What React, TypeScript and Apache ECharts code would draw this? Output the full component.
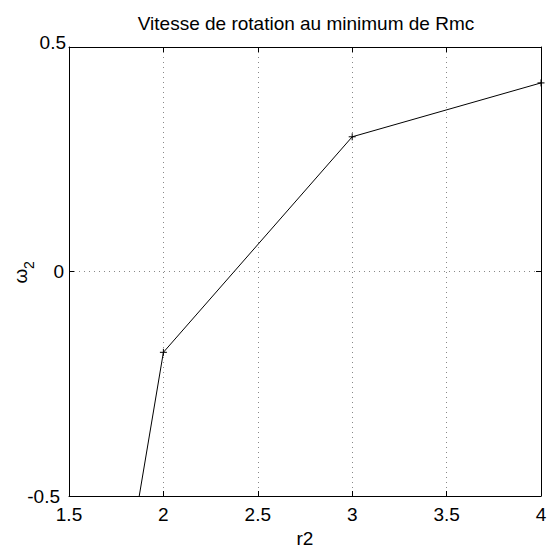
import React, { useEffect, useRef } from "react";
import * as echarts from "echarts";

const titleText = "Vitesse de rotation au minimum de Rmc";
const xName = "r2";
const yNameMain = "ω";
const yNameSub = "2";
const r2Values = [1, 2, 3, 4];
const omega2Values = [-2.68, -0.18, 0.3, 0.42];
const xRange = [1.5, 4];
const yRange = [-0.5, 0.5];
const xStep = 0.5;
const yStep = 0.5;

const FONT = "'Liberation Sans', Arial, Helvetica, sans-serif";

export default function App() {
  const ref = useRef<HTMLDivElement>(null);
  useEffect(() => {
    document.body.style.margin = "0";
    if (!ref.current) return;
    const chart = echarts.init(ref.current, null, { renderer: "svg" });
    const axisLine = { show: true, onZero: false, lineStyle: { color: "#000", width: 1 } };
    const tick = { show: true, inside: true, length: 5, lineStyle: { color: "#000", width: 1 } };
    const grid = { show: true, lineStyle: { color: "#888", width: 1, type: [1, 4] as any } };
    chart.setOption({
      animation: false,
      backgroundColor: "#fff",
      title: {
        text: titleText,
        left: 306,
        top: 14,
        padding: 0,
        textAlign: "center",
        textStyle: { fontFamily: FONT, fontSize: 19, fontWeight: "normal", color: "#000" },
      },
      graphic: [
        {
          type: "text",
          x: 20,
          y: 276,
          rotation: Math.PI / 2,
          style: {
            text: yNameMain,
            fontFamily: FONT,
            fontSize: 19,
            fill: "#000",
            textAlign: "center",
            textVerticalAlign: "middle",
          },
        },
        {
          type: "text",
          x: 29,
          y: 265,
          rotation: Math.PI / 2,
          style: {
            text: yNameSub,
            fontFamily: FONT,
            fontSize: 14,
            fill: "#000",
            textAlign: "center",
            textVerticalAlign: "middle",
          },
        },
      ],
      grid: {
        left: 69,
        right: 11,
        top: 47,
        bottom: 55,
        containLabel: false,
        outerBoundsMode: "none",
      },
      xAxis: [
        {
          type: "value",
          min: xRange[0],
          max: xRange[1],
          interval: xStep,
          position: "bottom",
          name: xName,
          nameLocation: "middle",
          nameGap: 33,
          nameTextStyle: { fontFamily: FONT, fontSize: 19, color: "#000" },
          axisLine,
          axisTick: tick,
          axisLabel: { margin: 9, fontFamily: FONT, fontSize: 19, color: "#000" },
          splitLine: grid,
        },
        {
          type: "value",
          min: xRange[0],
          max: xRange[1],
          interval: xStep,
          position: "top",
          axisLine,
          axisTick: tick,
          axisLabel: { show: false },
          splitLine: { show: false },
        },
      ],
      yAxis: [
        {
          type: "value",
          min: yRange[0],
          max: yRange[1],
          interval: yStep,
          position: "left",
          axisLine,
          axisTick: tick,
          axisLabel: {
            margin: 3,
            fontFamily: FONT,
            fontSize: 19,
            color: "#000",
            formatter: (v: number) =>
              v === yRange[1] ? `{u|${v}}` : v === yRange[0] ? `{d|${v}}` : `{n|${v}}`,
            rich: {
              u: { fontFamily: FONT, fontSize: 19, color: "#000", padding: [0, 0, 10, 0] },
              d: { fontFamily: FONT, fontSize: 19, color: "#000", padding: [0, 6, 0, 0] },
              n: { fontFamily: FONT, fontSize: 19, color: "#000", padding: [0, 2, 0, 0] },
            },
          },
          splitLine: grid,
        },
        {
          type: "value",
          min: yRange[0],
          max: yRange[1],
          interval: yStep,
          position: "right",
          axisLine,
          axisTick: tick,
          axisLabel: { show: false },
          splitLine: { show: false },
        },
      ],
      series: [
        {
          type: "line",
          xAxisIndex: 0,
          yAxisIndex: 0,
          data: r2Values.map((x, i) => [x, omega2Values[i]]),
          clip: true,
          symbol: "path://M5,0L5,10M0,5L10,5",
          symbolSize: 7,
          showSymbol: true,
          lineStyle: { color: "#000", width: 1 },
          itemStyle: { color: "transparent", borderColor: "#000", borderWidth: 1 },
        },
      ],
    });
    return () => chart.dispose();
  }, []);
  return <div ref={ref} style={{ width: 552, height: 551 }} />;
}
